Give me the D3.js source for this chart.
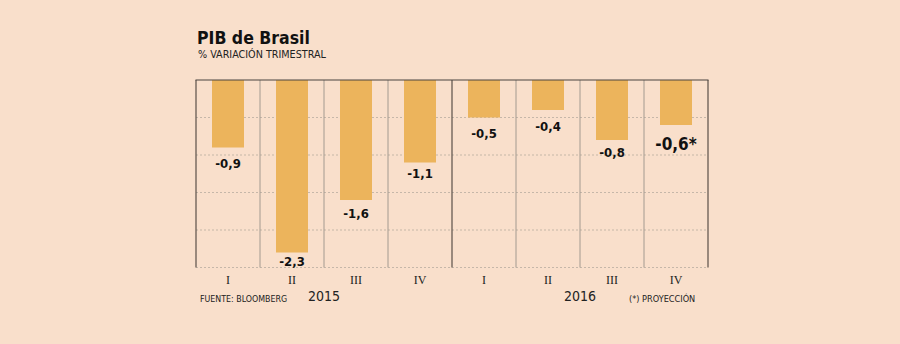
<!DOCTYPE html>
<html>
<head>
<meta charset="utf-8">
<script src="https://cdn.jsdelivr.net/npm/d3@7"></script>
<style>
  html, body { margin: 0; padding: 0; background: #f9dfcb; }
  svg { display: block; }
</style>
</head>
<body>
<svg id="chart" width="900" height="344"></svg>
<script>
// Quarterly GDP change, Brazil
const quarters = ["I", "II", "III", "IV", "I", "II", "III", "IV"];
const years = ["2015", "2016"];
const values = [-0.9, -2.3, -1.6, -1.1, -0.5, -0.4, -0.8, -0.6];
const valueLabels = ["-0,9", "-2,3", "-1,6", "-1,1", "-0,5", "-0,4", "-0,8", "-0,6*"];
const gridTicks = [-0.5, -1.0, -1.5, -2.0, -2.5];

// baseline distance of each value label below its bar end (px)
const labelGap = [20, 13.7, 17.7, 15.7, 20, 21.4, 16.6, 25];

const svg = d3.select("#chart");
const plot = { left: 196, right: 708, top: 80, bottom: 267.5 };

const x = d3.scaleBand()
  .domain(d3.range(values.length))
  .range([plot.left, plot.right])
  .paddingInner(0.5)
  .paddingOuter(0.25);

const y = d3.scaleLinear()
  .domain([0, -2.5])
  .range([plot.top, plot.bottom]);

const step = x.step();
const condensed = "'Liberation Sans Narrow', 'DejaVu Sans Condensed', 'Roboto Condensed', sans-serif";

// title block
svg.append("text")
  .attr("x", 197).attr("y", 44)
  .attr("font-family", "'DejaVu Sans Condensed', 'DejaVu Sans', sans-serif")
  .attr("font-weight", "bold")
  .attr("font-size", 17.5)
  .attr("fill", "#111")
  .text("PIB de Brasil");

svg.append("text")
  .attr("x", 198).attr("y", 58)
  .attr("font-family", condensed)
  .attr("font-size", 10.7)
  .attr("fill", "#222")
  .text("% VARIACIÓN TRIMESTRAL");

// dashed horizontal gridlines
svg.append("g")
  .selectAll("line")
  .data(gridTicks)
  .join("line")
  .attr("x1", plot.left).attr("x2", plot.right)
  .attr("y1", d => y(d)).attr("y2", d => y(d))
  .attr("stroke", "#b9aca0")
  .attr("stroke-width", 0.8)
  .attr("stroke-dasharray", "2,2");

// column separators
const seps = d3.range(values.length + 1);
svg.append("g")
  .selectAll("line")
  .data(seps)
  .join("line")
  .attr("x1", i => plot.left + i * step)
  .attr("x2", i => plot.left + i * step)
  .attr("y1", plot.top)
  .attr("y2", plot.bottom)
  .attr("stroke", i => (i % 4 === 0) ? "#5a5048" : "#a39a90")
  .attr("stroke-width", i => (i % 4 === 0) ? 1.2 : 1);

// bars
svg.append("g")
  .selectAll("rect")
  .data(values)
  .join("rect")
  .attr("x", (d, i) => x(i))
  .attr("y", y(0))
  .attr("width", x.bandwidth())
  .attr("height", d => y(d) - y(0))
  .attr("fill", "#ecb45c");

// zero line on top
svg.append("line")
  .attr("x1", plot.left - 0.5).attr("x2", plot.right + 0.5)
  .attr("y1", y(0)).attr("y2", y(0))
  .attr("stroke", "#4a4440")
  .attr("stroke-width", 1.2);

// value labels
svg.append("g")
  .selectAll("text")
  .data(values)
  .join("text")
  .attr("x", (d, i) => x(i) + x.bandwidth() / 2)
  .attr("y", (d, i) => y(d) + labelGap[i])
  .attr("text-anchor", "middle")
  .attr("font-family", "'DejaVu Sans Condensed', 'DejaVu Sans', sans-serif")
  .attr("font-weight", "bold")
  .attr("font-size", (d, i) => i === values.length - 1 ? 17 : 13)
  .attr("fill", "#111")
  .text((d, i) => valueLabels[i]);

// quarter labels
svg.append("g")
  .selectAll("text")
  .data(quarters)
  .join("text")
  .attr("x", (d, i) => x(i) + x.bandwidth() / 2)
  .attr("y", 284)
  .attr("text-anchor", "middle")
  .attr("font-family", "'Liberation Serif', 'DejaVu Serif', serif")
  .attr("font-size", 12)
  .attr("fill", "#222")
  .text(d => d);

// year labels
svg.append("g")
  .selectAll("text")
  .data(years)
  .join("text")
  .attr("x", (d, i) => plot.left + (i * 4 + 2) * step)
  .attr("y", 301)
  .attr("text-anchor", "middle")
  .attr("font-family", "'DejaVu Sans Condensed', 'DejaVu Sans', sans-serif")
  .attr("font-size", 14)
  .attr("fill", "#222")
  .text(d => d);

// footnotes
svg.append("text")
  .attr("x", 200).attr("y", 302)
  .attr("font-family", condensed)
  .attr("font-size", 8.8)
  .attr("fill", "#222")
  .text("FUENTE: BLOOMBERG");

svg.append("text")
  .attr("x", 629).attr("y", 302)
  .attr("font-family", condensed)
  .attr("font-size", 9.1)
  .attr("fill", "#222")
  .text("(*) PROYECCIÓN");
</script>
</body>
</html>
